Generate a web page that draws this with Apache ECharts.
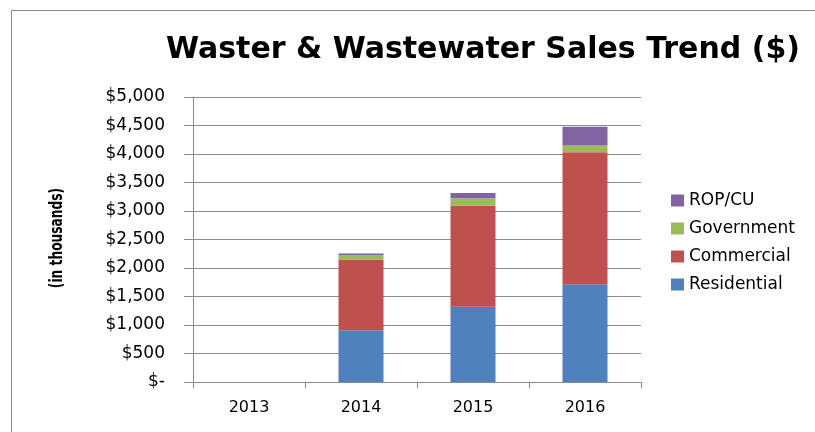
<!DOCTYPE html>
<html>
<head>
<meta charset="utf-8">
<script src="https://cdn.jsdelivr.net/npm/echarts@6/dist/echarts.min.js"></script>
<style>
html,body{margin:0;padding:0;background:#fff;}
#chart{width:815px;height:432px;}
</style>
</head>
<body>
<div id="chart"></div>
<script>
var categories = ['2013', '2014', '2015', '2016'];
var residential = [null, 910, 1320, 1715];
var commercial = [null, 1240, 1770, 2315];
var government = [null, 75, 135, 120];
var ropcu = [null, 30, 90, 330];
var yTickLabels = ['$-', '$500', '$1,000', '$1,500', '$2,000', '$2,500', '$3,000', '$3,500', '$4,000', '$4,500', '$5,000'];
var legendOrder = ['ROP/CU', 'Government', 'Commercial', 'Residential'];

var chart = echarts.init(document.getElementById('chart'));
var font = 'DejaVu Sans';
function mk(name, data, color) {
  return { name: name, type: 'bar', stack: 'total', data: data, barWidth: 45,
    itemStyle: { color: color }, emphasis: { disabled: true } };
}
chart.setOption({
  animation: false,
  backgroundColor: '#fff',
  title: {
    text: 'Waster & Wastewater Sales Trend ($)',
    left: 161, top: 30,
    textStyle: { fontFamily: font, fontWeight: 'bold', fontSize: 30, color: '#000' }
  },
  graphic: [
    { type: 'rect', shape: { x: 11.5, y: 10.5, width: 900, height: 500 },
      style: { fill: 'none', stroke: '#8a8a8a', lineWidth: 1 }, silent: true },
    { type: 'text', x: 58, y: 238, rotation: Math.PI / 2, scaleX: 0.8,
      style: { text: '(in thousands)', fontFamily: 'DejaVu Sans Condensed', fontWeight: 'bold', fontSize: 17,
        fill: '#000', textAlign: 'center', textVerticalAlign: 'middle' } }
  ],
  legend: {
    data: legendOrder,
    orient: 'vertical',
    left: 666, top: 187,
    itemWidth: 13, itemHeight: 12, itemGap: 11,
    icon: 'rect',
    textStyle: { fontFamily: font, fontSize: 17, color: '#000', lineHeight: 16 }
  },
  grid: { left: 193, top: 97, right: 174, bottom: 50, containLabel: false },
  xAxis: {
    type: 'category', data: categories,
    axisLine: { lineStyle: { color: '#8a8a8a', width: 1 } },
    axisTick: { show: true, length: 6, lineStyle: { color: '#8a8a8a' } },
    axisLabel: { fontFamily: font, fontSize: 16, color: '#000', margin: 18 }
  },
  yAxis: {
    type: 'value', min: 0, max: 5000, interval: 500,
    axisLine: { show: true, lineStyle: { color: '#8a8a8a', width: 1 } },
    axisTick: { show: true, length: 9, lineStyle: { color: '#8a8a8a' } },
    splitLine: { lineStyle: { color: '#8e8e8e', width: 1 } },
    axisLabel: { fontFamily: font, fontSize: 17, color: '#000', margin: 28,
      formatter: function (v) { return yTickLabels[Math.round(v / 500)]; } }
  },
  series: [
    mk('Residential', residential, '#4F81BD'),
    mk('Commercial', commercial, '#C0504D'),
    mk('Government', government, '#9BBB59'),
    mk('ROP/CU', ropcu, '#8064A2')
  ]
});
</script>
</body>
</html>
